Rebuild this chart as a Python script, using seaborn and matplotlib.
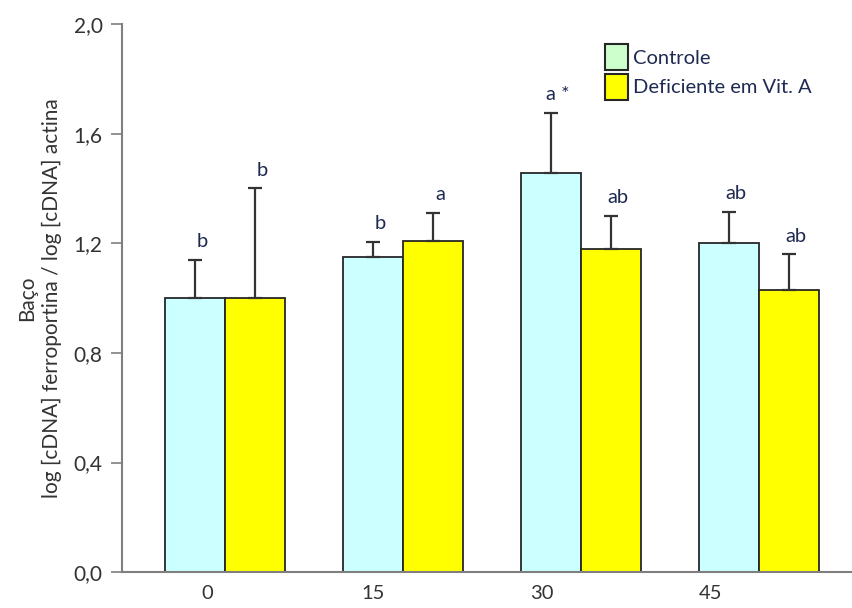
import numpy as np
import pandas as pd
import matplotlib
matplotlib.use("Agg")
import matplotlib.pyplot as plt
import seaborn as sns
from matplotlib.patches import Patch

# Days of treatment and the two diet groups
days = ["0", "15", "30", "45"]
groups = ["Controle", "Deficiente em Vit. A"]

# Ferroportin / actin expression ratio (mean) and upper error
controle_mean = [1.00, 1.15, 1.455, 1.20]
controle_err = [0.14, 0.055, 0.22, 0.115]
deficiente_mean = [1.00, 1.21, 1.18, 1.03]
deficiente_err = [0.40, 0.10, 0.12, 0.13]

# Significance letters above each bar
controle_letters = ["b", "b", "a *", "ab"]
deficiente_letters = ["b", "a", "ab", "ab"]

yticks = [0.0, 0.4, 0.8, 1.2, 1.6, 2.0]

df = pd.DataFrame({
    "dia": days * 2,
    "grupo": [groups[0]] * len(days) + [groups[1]] * len(days),
    "valor": controle_mean + deficiente_mean,
    "erro": controle_err + deficiente_err,
    "letra": controle_letters + deficiente_letters,
})

sns.set_theme(style="white")
plt.rcParams["font.family"] = ["Lato", "DejaVu Sans"]

bar_colors = {"Controle": "#CCFFFF", "Deficiente em Vit. A": "#FFFF00"}
text_color = "#1F2A52"
edge = "#262626"

fig = plt.figure(figsize=(8.53, 6.08), dpi=100)
ax = fig.add_axes([0.143, 0.059, 0.857, 0.9015])

sns.barplot(data=df, x="dia", y="valor", hue="grupo", order=days,
            hue_order=groups, palette=bar_colors, saturation=1,
            width=0.674, errorbar=None, edgecolor=edge, linewidth=1.3,
            legend=False, ax=ax)

# Upper error bars and letters, placed on the bars seaborn drew
for container, g in zip(ax.containers, groups):
    sub = df[df["grupo"] == g].set_index("dia").loc[days]
    for patch, (_, row) in zip(container.patches, sub.iterrows()):
        xc = patch.get_x() + patch.get_width() / 2
        top = patch.get_height()
        ax.errorbar(xc, top, yerr=[[0], [row["erro"]]], fmt="none",
                    ecolor="#333333", elinewidth=1.6, capsize=5,
                    capthick=1.6, zorder=1)
        ax.annotate(row["letra"], (xc, top + row["erro"]),
                    xytext=(5, 7), textcoords="offset points",
                    ha="center", va="bottom", fontsize=14.5,
                    color=text_color)

ax.set_ylim(0, 2.0)
ax.set_xlim(-0.579, 3.528)
ax.set_yticks(yticks)
ax.set_yticklabels([f"{v:.1f}".replace(".", ",") for v in yticks],
                   fontsize=15, color="#333333")

# Category labels sit slightly left of each bar pair
ax.set_xticks([-0.1, 0.83, 1.78, 2.73])
ax.set_xticklabels(days, fontsize=14.5, color="#333333")
ax.tick_params(axis="x", length=0, pad=9)
ax.tick_params(axis="y", direction="out", length=8, width=1.2,
               color="#7f7f7f", left=True, pad=6)

for side in ["top", "right"]:
    ax.spines[side].set_visible(False)
for side in ["left", "bottom"]:
    ax.spines[side].set_color("#7f7f7f")
    ax.spines[side].set_linewidth(1.5)

ax.set_xlabel("")
ax.set_ylabel("Baço\nlog [cDNA] ferroportina / log [cDNA] actina",
              fontsize=15, color="#333333", labelpad=8, linespacing=1.3)

handles = [Patch(facecolor="#CCFFCC", edgecolor=edge, linewidth=1.5),
           Patch(facecolor="#FFFF00", edgecolor=edge, linewidth=1.5)]
leg = ax.legend(handles, groups, loc="upper left",
                bbox_to_anchor=(0.647, 0.982), frameon=False,
                fontsize=14.5, handlelength=1.15, handleheight=1.65,
                handletextpad=0.25, labelspacing=0.15, borderpad=0)
for t in leg.get_texts():
    t.set_color(text_color)

fig.savefig("out.png", dpi=100)
